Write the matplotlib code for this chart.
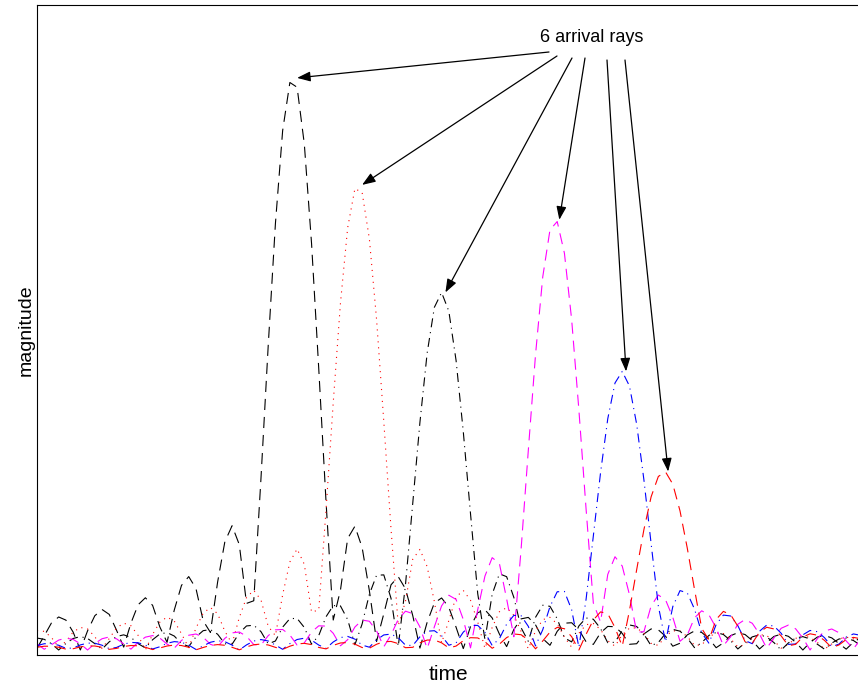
import numpy as np
import matplotlib.pyplot as plt

plt.rcParams['font.family'] = ['Liberation Sans', 'DejaVu Sans']
plt.rcParams['lines.scale_dashes'] = False

# arrival times (in units of the pulse width) and peak gains of the 6 rays
arrival_times = [6.02, 7.55, 9.51, 12.19, 13.76, 14.75]
arrival_gains = [1.0, 0.813, 0.625, 0.752, 0.487, 0.312]
ray_colors = ['#000000', '#ff0000', '#000000', '#ff00ff', '#0000ff', '#ff0000']
ray_styles = [(0, (8, 5)), (0, (0.8, 3.5)), (0, (6.5, 3.5, 0.8, 3.5)),
              (0, (8, 5)), (0, (6.5, 3.5, 0.8, 3.5)), (0, (8, 5))]

# arrow start points under the label (pixels)
arrow_starts_px = [(549, 52), (557, 56), (572, 58), (585, 58), (607, 60), (625, 60)]

t = np.arange(0, 19.5, 0.17)

fig = plt.figure(figsize=(8.58, 6.86), dpi=100)
ax = fig.add_axes([37 / 858, 1 - 655 / 686, 823 / 858, 650 / 686])

for t0, g, c, ls in zip(arrival_times, arrival_gains, ray_colors, ray_styles):
    ax.plot(t, g * np.abs(np.sinc(t - t0)), color=c, linestyle=ls, linewidth=0.8)

ax.set_xlim(0, 823 / 42.5)
ax.set_ylim(-5 / 573, 1 + 73 / 573)
ax.set_xticks([])
ax.set_yticks([])
ax.set_xlabel('time', fontsize=15, labelpad=7)
ax.set_ylabel('magnitude', fontsize=14, labelpad=2)

ax.text((592 - 37) / 823, (655 - 37) / 650, '6 arrival rays', transform=ax.transAxes,
        ha='center', va='center', fontsize=13)
for (px, py), t0, g in zip(arrow_starts_px, arrival_times, arrival_gains):
    ax.annotate('', xy=(t0 + 0.1, g), xycoords='data',
                xytext=((px - 37) / 823, (655 - py) / 650), textcoords='axes fraction',
                arrowprops=dict(arrowstyle='-|>,head_length=0.8,head_width=0.3',
                                color='k', lw=0.9, shrinkA=0, shrinkB=0))

fig.savefig('out.png', dpi=100)
